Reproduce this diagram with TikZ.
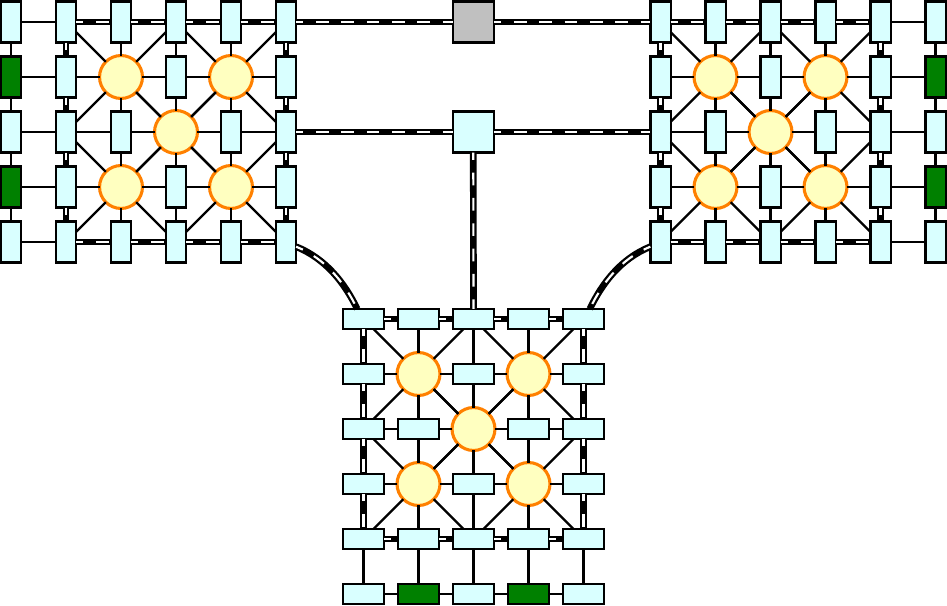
\documentclass[tikz,border=0pt]{standalone}
\definecolor{boxc}{RGB}{217,255,255}
\definecolor{grn}{RGB}{0,128,0}
\definecolor{circf}{RGB}{255,255,192}
\definecolor{circd}{RGB}{255,128,0}
\definecolor{gry}{RGB}{192,192,192}
\newcommand\mydiag[3]{%
 \pgfmathtruncatemacro\rA{#2-1}\pgfmathtruncatemacro\rB{#2+1}%
 \pgfmathtruncatemacro\cA{#3-1}\pgfmathtruncatemacro\cB{#3+1}%
 \draw[pl] (#1-#2-#3) -- (#1-\rA-\cA);
 \draw[pl] (#1-#2-#3) -- (#1-\rA-\cB);
 \draw[pl] (#1-#2-#3) -- (#1-\rB-\cA);
 \draw[pl] (#1-#2-#3) -- (#1-\rB-\cB);}
\begin{document}
\begin{tikzpicture}[x=0.75pt,y=-0.75pt,
  boxbase/.style={draw=black,line width=1.7pt,inner sep=0pt,outer sep=0pt,rectangle},
  vb/.style={boxbase,fill=boxc,minimum width=15.2pt,minimum height=30.9pt},
  vg/.style={vb,fill=grn},
  hb/.style={boxbase,fill=boxc,minimum width=30.9pt,minimum height=15.2pt},
  hg/.style={hb,fill=grn},
  ci/.style={circle,draw=circd,fill=circf,line width=2.3pt,minimum size=32.2pt,inner sep=0pt,outer sep=0pt},
  sq/.style={boxbase,fill=boxc,minimum width=30.9pt,minimum height=30.9pt},
  gsq/.style={sq,fill=gry},
  pl/.style={line width=1.8pt},
  dbl/.style={line width=5pt,postaction={draw=white,line width=1.6pt,dash pattern=on 9.5pt off 9.5pt,dash phase=4pt}}]
\useasboundingbox (0,0) rectangle (947,606);

% ---- nodes: left module
\foreach \r/\row in {0/{vb,vb,vb,vb,vb,vb},1/{vg,vb,ci,vb,ci,vb},2/{vb,vb,vb,ci,vb,vb},3/{vg,vb,ci,vb,ci,vb},4/{vb,vb,vb,vb,vb,vb}}
  \foreach \s [count=\c from 0] in \row
    \node[\s] (L-\r-\c) at ({11+55*\c},{22+55*\r}) {};
% ---- nodes: right module
\foreach \r/\row in {0/{vb,vb,vb,vb,vb,vb},1/{vb,ci,vb,ci,vb,vg},2/{vb,vb,ci,vb,vb,vb},3/{vb,ci,vb,ci,vb,vg},4/{vb,vb,vb,vb,vb,vb}}
  \foreach \s [count=\c from 0] in \row
    \node[\s] (R-\r-\c) at ({660.5+55*\c},{22+55*\r}) {};
% ---- nodes: bottom module
\foreach \r/\row in {0/{hb,hb,hb,hb,hb},1/{hb,ci,hb,ci,hb},2/{hb,hb,ci,hb,hb},3/{hb,ci,hb,ci,hb},4/{hb,hb,hb,hb,hb},5/{hb,hg,hb,hg,hb}}
  \foreach \s [count=\c from 0] in \row
    \node[\s] (B-\r-\c) at ({363.5+55*\c},{319+55*\r}) {};
% ---- central nodes
\node[gsq] (T) at (473.25,22) {};
\node[sq] (C) at (473.25,132) {};

% ---- left module edges
\foreach \r in {0,...,4} \draw[pl] (L-\r-0) -- (L-\r-1);
\foreach \r/\st in {0/dbl,1/pl,2/pl,3/pl,4/dbl}
  \foreach \c [remember=\c as \p (initially 1)] in {2,...,5}
    \draw[\st] (L-\r-\p) -- (L-\r-\c);
\foreach \c/\st in {0/pl,1/dbl,2/pl,3/pl,4/pl,5/dbl}
  \foreach \r [remember=\r as \p (initially 0)] in {1,...,4}
    \draw[\st] (L-\p-\c) -- (L-\r-\c);
\foreach \r/\c in {1/2,1/4,2/3,3/2,3/4} \mydiag{L}{\r}{\c};

% ---- right module edges
\foreach \r in {0,...,4} \draw[pl] (R-\r-4) -- (R-\r-5);
\foreach \r/\st in {0/dbl,1/pl,2/pl,3/pl,4/dbl}
  \foreach \c [remember=\c as \p (initially 0)] in {1,...,4}
    \draw[\st] (R-\r-\p) -- (R-\r-\c);
\foreach \c/\st in {0/dbl,1/pl,2/pl,3/pl,4/dbl,5/pl}
  \foreach \r [remember=\r as \p (initially 0)] in {1,...,4}
    \draw[\st] (R-\p-\c) -- (R-\r-\c);
\foreach \r/\c in {1/1,1/3,2/2,3/1,3/3} \mydiag{R}{\r}{\c};

% ---- bottom module edges
\foreach \r/\st in {0/dbl,1/pl,2/pl,3/pl,4/dbl,5/pl}
  \foreach \c [remember=\c as \p (initially 0)] in {1,...,4}
    \draw[\st] (B-\r-\p) -- (B-\r-\c);
\foreach \c/\st in {0/dbl,1/pl,2/pl,3/pl,4/dbl}
  \foreach \r [remember=\r as \p (initially 0)] in {1,...,4}
    \draw[\st] (B-\p-\c) -- (B-\r-\c);
\foreach \c in {0,...,4} \draw[pl] (B-4-\c) -- (B-5-\c);
\foreach \r/\c in {1/1,1/3,2/2,3/1,3/3} \mydiag{B}{\r}{\c};

% ---- inter-module links
\draw[dbl] (L-0-5) -- (T);
\draw[dbl] (T) -- (R-0-0);
\draw[dbl] (L-2-5) -- (C);
\draw[dbl] (C) -- (R-2-0);
\draw[dbl] (C) -- (B-0-2);
\draw[dbl] (L-4-5.-25) .. controls +(30,12) and +(-12,-25) .. (B-0-0.122);
\draw[dbl] (R-4-0.205) .. controls +(-30,12) and +(12,-25) .. (B-0-4.58);
\end{tikzpicture}
\end{document}
